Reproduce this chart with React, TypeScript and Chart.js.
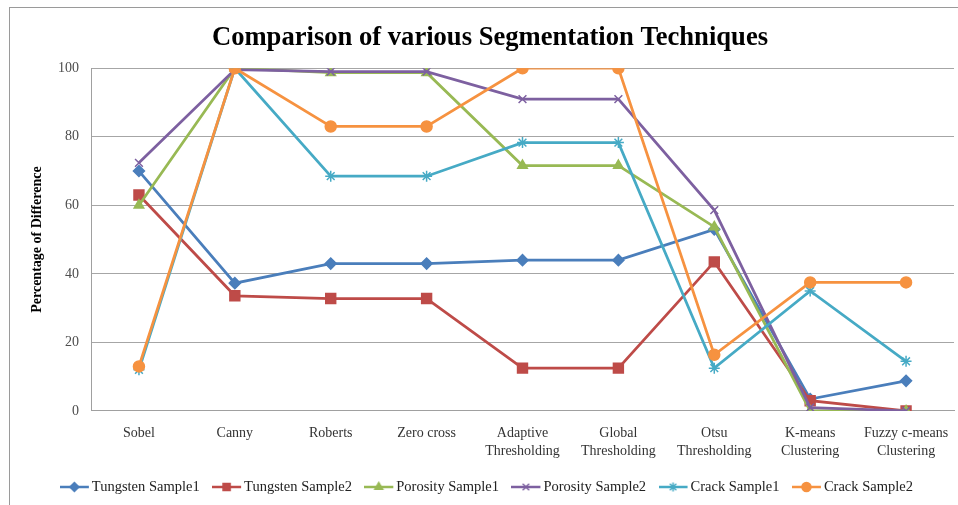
import React, { useEffect, useRef } from 'react';
import { Chart, registerables } from 'chart.js';
import { drawPoint } from 'chart.js/helpers';

Chart.register(...registerables);

const TITLE = 'Comparison of various Segmentation Techniques';
const Y_TITLE = 'Percentage of Difference';

const categories: (string | string[])[] = [
  'Sobel',
  'Canny',
  'Roberts',
  'Zero cross',
  ['Adaptive', 'Thresholding'],
  ['Global', 'Thresholding'],
  ['Otsu', 'Thresholding'],
  ['K-means', 'Clustering'],
  ['Fuzzy c-means', 'Clustering'],
];

const seriesNames = [
  'Tungsten Sample1',
  'Tungsten Sample2',
  'Porosity Sample1',
  'Porosity Sample2',
  'Crack Sample1',
  'Crack Sample2',
];

const tungsten1 = [70, 37.3, 43, 43, 44, 44, 53, 3.5, 8.8];
const tungsten2 = [63, 33.6, 32.8, 32.8, 12.5, 12.5, 43.5, 3, 0];
const porosity1 = [60, 100, 98.7, 98.7, 71.6, 71.6, 53.7, 0, 0];
const porosity2 = [72.4, 99.6, 99, 99, 91, 91, 58.6, 1, 0];
const crack1 = [12, 100, 68.5, 68.5, 78.3, 78.3, 12.5, 35, 14.5];
const crack2 = [13, 100, 83, 83, 100, 100, 16.4, 37.5, 37.5];

const seriesValues = [tungsten1, tungsten2, porosity1, porosity2, crack1, crack2];

const colors = ['#4A7EBB', '#BE4B48', '#98B954', '#7D60A0', '#46AAC5', '#F69240'];
const pointStyles = ['rectRot', 'rect', 'triangle', 'crossRot', 'star', 'circle'];
const pointRadii = [5.5, 7, 5.5, 5.5, 5.5, 5.5];
const legendRadii = [4.5, 5, 4.5, 4.5, 4.5, 4.5];

const FONT = "'Liberation Serif', 'Times New Roman', serif";

function legendIcon(i: number): HTMLCanvasElement {
  const c = document.createElement('canvas');
  c.width = 32;
  c.height = 14;
  const ctx = c.getContext('2d')!;
  ctx.strokeStyle = colors[i];
  ctx.fillStyle = colors[i];
  ctx.lineWidth = 2.5;
  ctx.beginPath();
  ctx.moveTo(0, 7);
  ctx.lineTo(29, 7);
  ctx.stroke();
  ctx.lineWidth = 1.5;
  drawPoint(ctx, { pointStyle: pointStyles[i] as any, radius: legendRadii[i], rotation: 0, borderWidth: 1.5 } as any, 14.5, 7);
  return c;
}

export default function App() {
  const ref = useRef<HTMLCanvasElement>(null);

  useEffect(() => {
    const icons = seriesNames.map((_, i) => legendIcon(i));
    const n = seriesNames.length;
    const chart = new Chart(ref.current!, {
      type: 'line',
      data: {
        labels: categories as any,
        datasets: seriesNames.map((name, i) => ({
          label: name,
          data: seriesValues[i],
          borderColor: colors[i],
          backgroundColor: colors[i],
          pointBackgroundColor: colors[i],
          pointBorderColor: colors[i],
          borderWidth: 2.75,
          pointStyle: pointStyles[i] as any,
          pointRadius: pointRadii[i],
          pointBorderWidth: 1.5,
          tension: 0,
          fill: false,
          order: n - 1 - i,
        })),
      },
      options: {
        responsive: false,
        animation: false,
        layout: { padding: { left: 17, right: 17, top: 0, bottom: 0.75 } },
        plugins: {
          tooltip: { enabled: false },
          title: {
            display: true,
            text: TITLE,
            color: '#000',
            font: { family: FONT, size: 26.6, weight: 'bold', lineHeight: 1.2 },
            padding: { top: 14, bottom: 14.3 },
          },
          legend: {
            position: 'bottom',
            labels: {
              color: '#222',
              font: { family: FONT, size: 14.5 },
              usePointStyle: true,
              pointStyleWidth: 17.5,
              padding: 19.65,
              generateLabels: (ch: any) =>
                ch.data.datasets.map((ds: any, i: number) => ({
                  text: ds.label,
                  fillStyle: colors[i],
                  strokeStyle: colors[i],
                  fontColor: '#222',
                  lineWidth: 0,
                  pointStyle: icons[i],
                  hidden: false,
                  datasetIndex: i,
                })),
            },
          },
        },
        scales: {
          x: {
            type: 'category',
            offset: true,
            grid: { display: false, drawTicks: true, tickLength: 13 },
            border: { display: true, color: '#a0a0a0', width: 1 },
            ticks: {
              padding: 0,
              maxRotation: 0,
              autoSkip: false,
              color: '#333',
              font: { family: FONT, size: 14, lineHeight: 1.29 },
            },
          },
          y: {
            min: 0,
            max: 100,
            grid: { color: '#a6a6a6', drawTicks: false, lineWidth: 1 },
            border: { display: true, color: '#a0a0a0', width: 1 },
            ticks: {
              stepSize: 20,
              padding: 12,
              color: '#4d4d4d',
              font: { family: FONT, size: 14 },
            },
            title: {
              display: true,
              text: Y_TITLE,
              color: '#000',
              font: { family: FONT, size: 14, weight: 'bold', lineHeight: 1.2 },
              padding: { top: 2.6, bottom: 0.6 },
            },
          },
        },
      },
    });
    return () => chart.destroy();
  }, []);

  return (
    <div
      style={{
        position: 'fixed',
        left: 0,
        top: 0,
        width: 958,
        height: 505,
        overflow: 'hidden',
        background: '#fff',
      }}
    >
      <div
        style={{
          position: 'absolute',
          left: 9,
          top: 7,
          width: 1000,
          height: 600,
          border: '1.5px solid #9a9a9a',
          boxSizing: 'border-box',
        }}
      />
      <div style={{ position: 'absolute', left: 9, top: 8 }}>
        <canvas ref={ref} width={962} height={497} style={{ display: 'block' }} />
      </div>
    </div>
  );
}
